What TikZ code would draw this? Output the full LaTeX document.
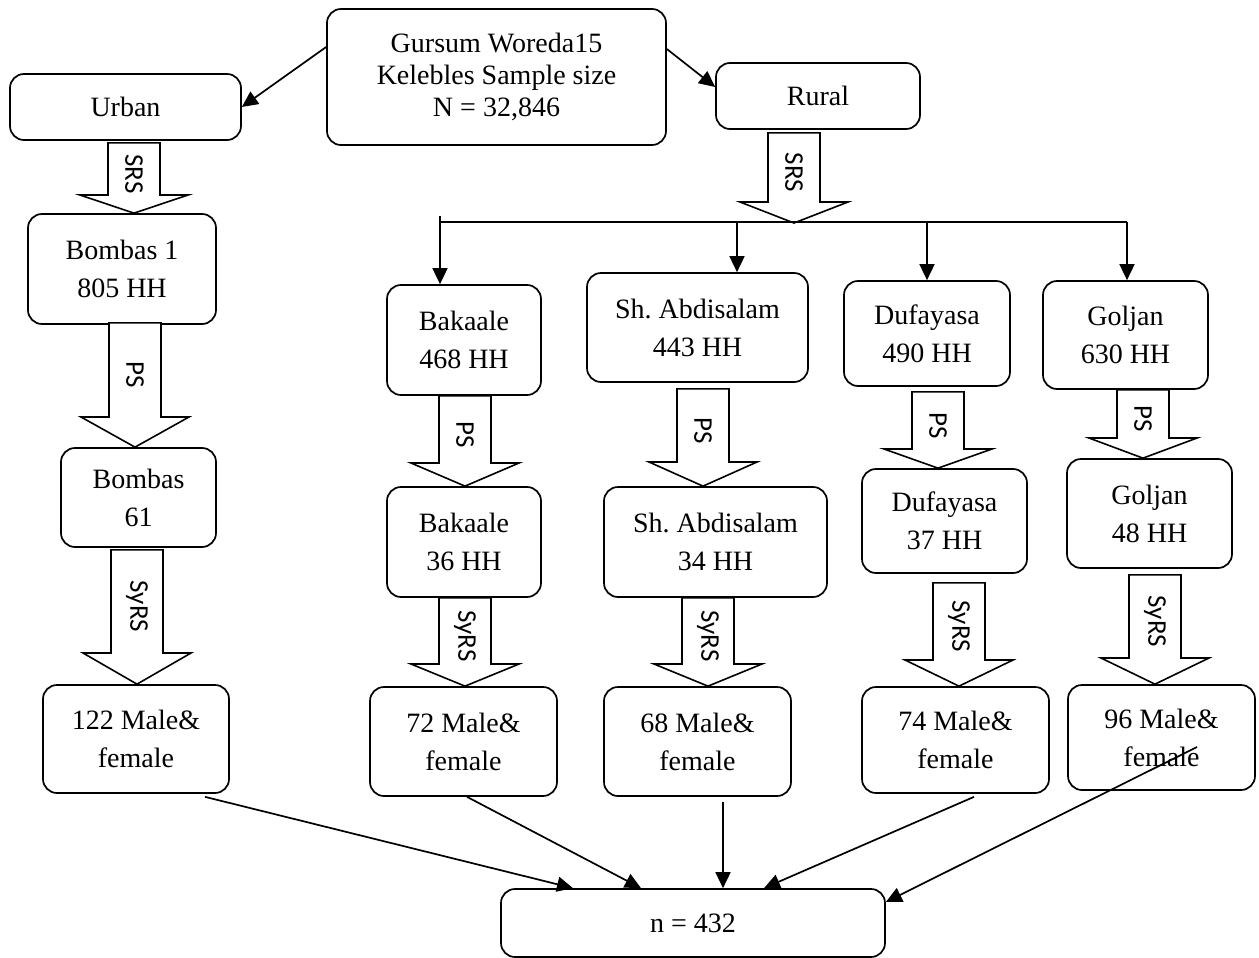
\documentclass[tikz,border=0pt]{standalone}
\usepackage{fontspec}
\setmainfont{Liberation Serif}
\newfontfamily\lblfont{Carlito}
\usetikzlibrary{arrows.meta,calc}
\tikzset{
  box/.style={draw, line width=1.7pt, rounded corners=14pt, fill=white, inner sep=0pt,
    align=center, font=\fontsize{28}{38}\selectfont},
  conn/.style={line width=1.7pt, -{Triangle[length=16pt,width=15pt]}},
  blk/.style={draw, line width=1.6pt, fill=white, line join=miter},
  lbl/.style={rotate=-90, font=\lblfont\fontsize{27}{30}\selectfont, inner sep=0pt},
}
% #1 upper node, #2 lower node, #3 x centre, #4 gap below upper, #5 head base y, #6 label
\newcommand{\barrow}[6]{%
  \draw[blk] let \p1=($(#1.south)+(0,#4)$), \p2=(#2.north) in
    (#3pt-26pt,\y1) -- (#3pt+26pt,\y1) -- (#3pt+26pt,-#5pt) -- (#3pt+54pt,-#5pt)
    -- (#3pt,\y2) -- (#3pt-54pt,-#5pt) -- (#3pt-26pt,-#5pt) -- cycle;
  \path let \p1=($(#1.south)+(0,#4)$) in node[lbl] at (#3pt,{0.5*(\y1-#5pt)-5pt}) {#6};
}
\begin{document}
\begin{tikzpicture}[x=1pt,y=-1pt]
\useasboundingbox (0,0) rectangle (1259,958);

% boxes
\node[box, minimum width=339pt, minimum height=136pt, font=\fontsize{28}{32}\selectfont] (gur) at (496.5,77) {Gursum Woreda15\\Kelebles Sample size\\N = 32,846};
\node[box, minimum width=231pt, minimum height=66pt] (urb) at (125.5,107) {Urban};
\node[box, minimum width=204pt, minimum height=66pt] (rur) at (818,96) {Rural};

\node[box, minimum width=188pt, minimum height=110pt] (bo1) at (122,269) {Bombas 1\\805 HH};
\node[box, minimum width=155pt, minimum height=99pt] (bo2) at (138.5,497.5) {Bombas\\61};
\node[box, minimum width=186pt, minimum height=108pt] (m1) at (136,739) {122 Male\&\\female};

\node[box, minimum width=154pt, minimum height=110pt] (bk1) at (464,340) {Bakaale\\468 HH};
\node[box, minimum width=154pt, minimum height=110pt] (bk2) at (464,542) {Bakaale\\36 HH};
\node[box, minimum width=187pt, minimum height=109pt] (m2) at (463.5,741.5) {72 Male\&\\female};

\node[box, minimum width=221pt, minimum height=109pt] (sh1) at (697.5,327.5) {Sh.\ Abdisalam\\443 HH};
\node[box, minimum width=223pt, minimum height=110pt] (sh2) at (715.5,542) {Sh.\ Abdisalam\\34 HH};
\node[box, minimum width=187pt, minimum height=109pt] (m3) at (697.5,741.5) {68 Male\&\\female};

\node[box, minimum width=166pt, minimum height=105pt] (du1) at (927,333.5) {Dufayasa\\490 HH};
\node[box, minimum width=165pt, minimum height=104pt] (du2) at (944.5,521) {Dufayasa\\37 HH};
\node[box, minimum width=187pt, minimum height=106pt] (m4) at (955.5,740) {74 Male\&\\female};

\node[box, minimum width=165pt, minimum height=108pt] (go1) at (1125.5,335) {Goljan\\630 HH};
\node[box, minimum width=165pt, minimum height=109pt] (go2) at (1149.5,513.5) {Goljan\\48 HH};
\node[box, minimum width=187pt, minimum height=105pt] (m5) at (1161.5,737.5) {96 Male\&\\female};

\node[box, minimum width=384pt, minimum height=68pt] (n) at (693,923) {n = 432};

\node[inner sep=0pt, outer sep=0pt, minimum size=0pt] (bus) at (794,223) {};

% top arrows
\draw[conn] ($(gur.west)+(0,-30)$) -- (urb.east);
\draw[conn] ($(gur.east)+(0,-28)$) -- ($(rur.west)+(0,-9)$);

% block arrows
\barrow{urb}{bo1}{134}{2}{195}{SRS}
\barrow{bo1}{bo2}{135}{-2}{417}{PS}
\barrow{bo2}{m1}{137}{2}{653}{SyRS}
\barrow{rur}{bus}{794}{3}{202}{SRS}
\barrow{bk1}{bk2}{465}{0}{463}{PS}
\barrow{bk2}{m2}{465}{0}{664}{SyRS}
\barrow{sh1}{sh2}{703}{6}{462}{PS}
\barrow{sh2}{m3}{708}{0}{664}{SyRS}
\barrow{du1}{du2}{938}{5}{449}{PS}
\barrow{du2}{m4}{959}{9}{660}{SyRS}
\barrow{go1}{go2}{1143}{0}{438}{PS}
\barrow{go2}{m5}{1155}{6}{658}{SyRS}

% bus line and drops
\coordinate (bl) at (440,222);
\coordinate (br) at (1127,222);
\coordinate (d1) at (440,216);
\coordinate (d2) at (737,222);
\coordinate (d3) at (927,222);
\draw[line width=1.7pt] (bl) -- (br);
\draw[conn] (d1) -- (d1 |- bk1.north);
\draw[conn] (d2) -- (d2 |- sh1.north);
\draw[conn] (d3) -- (d3 |- du1.north);
\draw[conn] (br) -- (br |- go1.north);

% bottom arrows
\draw[conn] ($(m1.south)+(69,3)$) -- ($(n.north)+(-120,0)$);
\draw[conn] ($(m2.south)+(3.5,0)$) -- ($(n.north)+(-52,0)$);
\draw[conn] ($(m3.south)+(25.5,5)$) -- ($(n.north)+(30,0)$);
\draw[conn] ($(m4.south)+(18.5,3)$) -- ($(n.north)+(71,0)$);
\draw[conn] ($(m5.center)+(35.5,9.5)$) -- ($(n.east)+(0,-21)$);
\end{tikzpicture}
\end{document}
